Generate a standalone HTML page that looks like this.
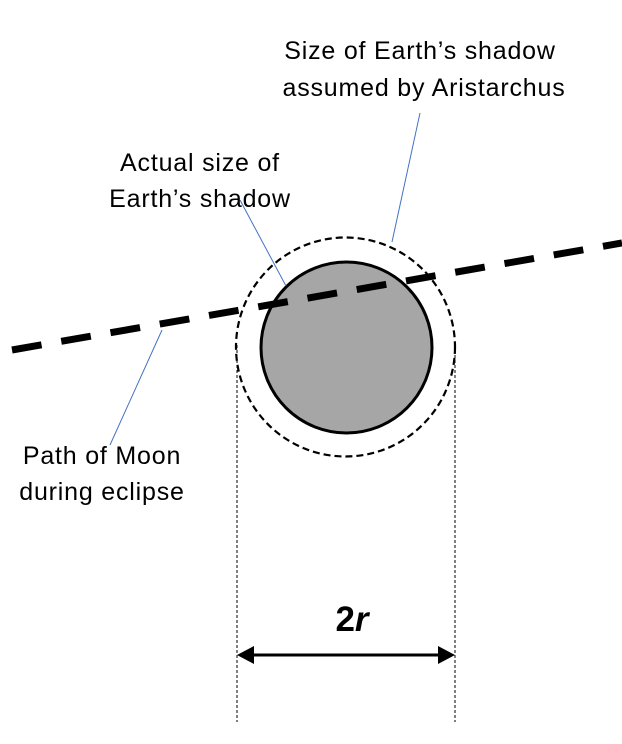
<!DOCTYPE html>
<html><head><style>body{margin:0;background:#fff}svg{display:block}</style></head><body>
<svg width="622" height="744" viewBox="0 0 622 744" font-family="Liberation Sans, sans-serif" font-size="25" letter-spacing="0.8" text-anchor="middle" fill="#000">
<line x1="237" y1="345" x2="237" y2="722" stroke="#000" stroke-width="1" stroke-dasharray="3,2"/>
<line x1="455" y1="345" x2="455" y2="722" stroke="#000" stroke-width="1" stroke-dasharray="3,2"/>
<circle cx="346.5" cy="347.5" r="85.5" fill="#a6a6a6" stroke="#000" stroke-width="3"/>
<circle cx="345.5" cy="347" r="109.5" fill="none" stroke="#000" stroke-width="2.2" stroke-dasharray="7,4"/>
<line x1="12" y1="350" x2="622" y2="243" stroke="#000" stroke-width="7" stroke-dasharray="30,20"/>
<line x1="420" y1="113" x2="392" y2="242" stroke="#4472c4" stroke-width="1"/>
<line x1="240" y1="200" x2="286" y2="286" stroke="#4472c4" stroke-width="1"/>
<line x1="162" y1="330" x2="110" y2="445" stroke="#4472c4" stroke-width="1"/>
<text x="420" y="59">Size of Earth’s shadow</text>
<text x="424" y="96">assumed by Aristarchus</text>
<text x="200" y="171">Actual size of</text>
<text x="200" y="207">Earth’s shadow</text>
<text x="102" y="464">Path of Moon</text>
<text x="102" y="500">during eclipse</text>
<line x1="250" y1="655" x2="442" y2="655" stroke="#000" stroke-width="3"/>
<polygon points="237,655 254,646 254,664" fill="#000"/>
<polygon points="455,655 438,646 438,664" fill="#000"/>
<text x="352" y="631" font-size="35" letter-spacing="0" font-weight="bold">2<tspan font-style="italic">r</tspan></text>
</svg>
</body></html>
